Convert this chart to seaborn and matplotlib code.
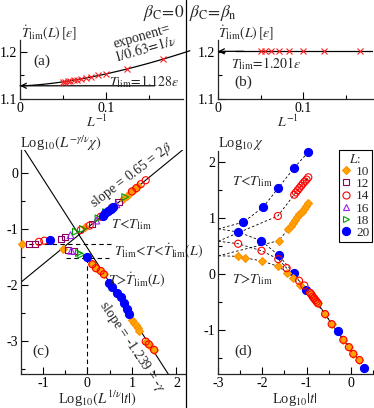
import numpy as np
import seaborn as sns
import matplotlib.pyplot as plt
from matplotlib.lines import Line2D
from matplotlib.ticker import MultipleLocator

sns.set_style("ticks")
plt.rcParams['font.family'] = ['Liberation Serif', 'DejaVu Serif']
plt.rcParams['mathtext.fontset'] = 'stix'
plt.rcParams['axes.unicode_minus'] = False

# ---- panel (a): Tdot_lim(L) vs 1/L, beta_C = 0
a_invL = [0.1667, 0.125, 0.1, 0.0909, 0.0833, 0.0769, 0.0714, 0.0667, 0.0625, 0.0588, 0.0556, 0.0526, 0.05]
a_T = [1.184, 1.164, 1.152, 1.150, 1.147, 1.145, 1.142, 1.141, 1.140, 1.139, 1.138, 1.137, 1.136]
a_Tlim, a_amp, a_nu = 1.128, 0.97, 0.63

# ---- panel (b): beta_C = beta_n
b_invL = [0.1667, 0.125, 0.1, 0.0833, 0.0714, 0.0625, 0.0556, 0.05]
b_T = [1.202, 1.201, 1.201, 1.201, 1.201, 1.201, 1.201, 1.201]
b_Tlim = 1.201

# ---- panel (c): collapsed data, upper branch (T<Tlim) and lower branch
c_up = {
    10: ([-1.46, -0.05, 0.80, 0.88, 0.95, 1.02, 1.08, 1.14],
         [-1.27, -0.96, -0.46, -0.41, -0.36, -0.31, -0.28, -0.24]),
    12: ([-1.31, -1.18, -0.60, -0.50, 0.10, 0.70],
         [-1.27, -1.27, -1.18, -1.14, -0.91, -0.52]),
    14: ([-1.09, -0.97, -0.15, 0.05, 0.30, 0.55, 1.00, 1.10, 1.20, 1.31],
         [-1.23, -1.21, -1.02, -0.94, -0.78, -0.62, -0.33, -0.27, -0.20, -0.13]),
    16: ([-0.38, 0.20, 0.65], [-1.11, -0.85, -0.56]),
    18: ([-0.26, -0.10, 0.25, 0.42, 0.85], [-1.05, -1.00, -0.81, -0.70, -0.43]),
    20: ([-0.84, 0.34, 0.40, 0.46, 0.52, 0.58], [-1.20, -0.76, -0.72, -0.68, -0.64, -0.61]),
}
c_low = {
    10: ([-0.54, 0.11, 0.19, 0.30, 0.37, 1.01, 1.05, 1.09, 1.13, 1.16, 1.31, 1.38, 1.44, 1.50],
         [-1.35, -1.63, -1.70, -1.75, -1.81, -2.63, -2.68, -2.71, -2.77, -2.83, -3.01, -3.06, -3.11, -3.16]),
    12: ([-0.43, -0.30], [-1.375, -1.40]),
    14: ([0.11, 0.19, 0.30, 0.37, 1.31, 1.38, 1.50], [-1.63, -1.70, -1.75, -1.81, -3.01, -3.06, -3.16]),
    16: ([-0.36], [-1.39]),
    18: ([-0.19, -0.14], [-1.43, -1.46]),
    20: ([-0.02, 0.49, 0.55, 0.67, 0.75, 0.82, 0.90, 0.94],
         [-1.50, -1.97, -2.03, -2.15, -2.21, -2.33, -2.43, -2.51]),
}
c_slope_up, c_icpt_up = 0.65, -0.98
c_slope_low, c_icpt_low = -1.239, -1.34

# ---- panel (d): Log10 chi vs Log10|t|
d_up = {
    10: ([-1.63, -1.41, -1.36, -1.31, -1.26, -1.21, -1.16, -1.11, -1.06, -1.01, -0.96],
         [0.59, 0.80, 0.85, 0.90, 0.95, 1.01, 1.06, 1.11, 1.16, 1.21, 1.26]),
    14: ([-1.65, -1.28, -1.24, -1.20, -1.16, -1.12, -1.08, -1.04, -1.00, -0.96],
         [1.03, 1.41, 1.45, 1.49, 1.53, 1.57, 1.61, 1.645, 1.68, 1.72]),
    20: ([-2.43, -1.98, -1.64, -1.28, -0.96], [0.92, 1.19, 1.53, 1.89, 2.17]),
}
d_low = {
    10: ([-2.55, -2.39, -2.02, -1.64, -1.45, -1.30, -1.15, -0.92, -0.89, -0.86, -0.83, -0.80, -0.77, -0.74,
          -0.58, -0.43, -0.165, -0.04, 0.06, 0.20],
         [0.31, 0.28, 0.23, 0.13, 0.02, -0.08, -0.20, -0.34, -0.37, -0.41, -0.44, -0.47, -0.50, -0.53,
          -0.72, -0.90, -1.18, -1.31, -1.43, -1.54]),
    14: ([-2.55, -2.02, -1.64, -1.45, -1.17, -1.05, -0.92, -0.89, -0.86, -0.83, -0.80, -0.77, -0.74,
          -0.58, -0.43, -0.165, -0.04, 0.06, 0.20],
         [0.535, 0.41, 0.26, 0.10, -0.125, -0.21, -0.34, -0.37, -0.41, -0.44, -0.47, -0.50, -0.53,
          -0.72, -0.90, -1.18, -1.31, -1.43, -1.54]),
    20: ([-2.55, -2.03, -1.63, -1.29, -1.01, -0.28, 0.31], [0.745, 0.589, 0.327, 0.01, -0.29, -1.03, -1.68]),
}
d_start = {10: 0.32, 14: 0.58, 20: 0.80}

sizes = [10, 12, 14, 16, 18, 20]
STYLE = {
    10: dict(marker='D', s=16, fc='#ffa500', ec='#ff9000'),
    12: dict(marker='s', s=20, fc='none', ec='#8b005a'),
    14: dict(marker='o', s=26, fc='none', ec='#ff0000'),
    16: dict(marker='^', s=24, fc='none', ec='#a020f0'),
    18: dict(marker='>', s=24, fc='none', ec='#00a000'),
    20: dict(marker='o', s=34, fc='#0000ff', ec='#0000ff'),
}
FS = 10

W, H = 374, 408
fig = plt.figure(figsize=(W / 100, H / 100), dpi=100)


def px_axes(l, r, t, b):
    return fig.add_axes([l / W, 1 - b / H, (r - l) / W, (b - t) / H])


def style_axes(ax, xmaj, xmin, ymaj, ymin):
    sns.despine(ax=ax)
    ax.set_facecolor('none')
    for s in ['left', 'bottom']:
        ax.spines[s].set_linewidth(0.9)
    ax.xaxis.set_major_locator(MultipleLocator(xmaj))
    ax.xaxis.set_minor_locator(MultipleLocator(xmin))
    ax.yaxis.set_major_locator(MultipleLocator(ymaj))
    ax.yaxis.set_minor_locator(MultipleLocator(ymin))
    ax.tick_params(which='both', direction='in', width=0.8, labelsize=FS, pad=2, colors='k')
    ax.tick_params(which='major', length=5)
    ax.tick_params(which='minor', length=3)


def pts(ax, x, y, L):
    st = STYLE[L]
    sns.scatterplot(x=x, y=y, ax=ax, marker=st['marker'], s=st['s'], facecolor=st['fc'],
                    edgecolor=st['ec'], linewidth=0.8, zorder=3, legend=False, clip_on=False)


# ================= (a)
axa = px_axes(20, 183, 40, 99)
axa.set_xlim(0, 0.19)
axa.set_ylim(1.1, 1.225)
style_axes(axa, 0.1, 0.05, 0.1, 0.05)
axa.set_xticks([0, 0.1])
axa.set_xticklabels(['0', '0.1'])
axa.set_yticks([1.1, 1.2])
xf = np.linspace(0, 0.198, 100)
axa.plot(xf, a_Tlim + a_amp * xf ** (1 / a_nu), color='k', lw=0.9, clip_on=False)
axa.annotate('', xy=(0, a_Tlim), xytext=(0.157, a_Tlim),
             arrowprops=dict(arrowstyle='->', lw=0.9, color='k', shrinkA=0, shrinkB=0, mutation_scale=9))
axa.plot(a_invL, a_T, ls='', marker='x', ms=5, mew=0.8, color='#ff2020', zorder=3)
axa.text(0.025, 1.179, '(a)', fontsize=FS + 1, ha='center', va='center')
axa.text(0.142, 1.232, 'exponent=', fontsize=FS, ha='center', va='center', rotation=16)
axa.text(0.146, 1.206, r'$1/0.63\!=\!1/\nu$', fontsize=FS, ha='center', va='center', rotation=16)
axa.text(0.145, 1.137, r'$T_{\rm lim}\!=\!1.128\varepsilon$', fontsize=FS, ha='center', va='center')

# ================= (b)
axb = px_axes(218, 373, 40, 99)
axb.set_xlim(0, 0.182)
axb.set_ylim(1.1, 1.225)
style_axes(axb, 0.1, 0.05, 0.1, 0.05)
axb.set_xticks([0, 0.1])
axb.set_xticklabels(['0', '0.1'])
axb.set_yticks([1.1, 1.2])
axb.plot([0.02, 0.182], [b_Tlim, b_Tlim], color='k', lw=0.9)
axb.annotate('', xy=(0, b_Tlim), xytext=(0.03, b_Tlim),
             arrowprops=dict(arrowstyle='->', lw=0.9, color='k', shrinkA=0, shrinkB=0, mutation_scale=9))
axb.plot(b_invL, b_T, ls='', marker='x', ms=5, mew=0.8, color='#ff2020', zorder=3)
axb.text(0.0297, 1.136, '(b)', fontsize=FS + 1, ha='center', va='center')
axb.text(0.057, 1.174, r'$T_{\rm lim}\!=\!1.201\varepsilon$', fontsize=FS, ha='center', va='center')

# ================= (c)
axc = px_axes(20.7, 185.3, 150, 374)
axc.set_xlim(-1.5, 2.2)
axc.set_ylim(-3.59, 0.41)
style_axes(axc, 1, 0.5, 1, 0.5)
xl = np.array([-1.5, 2.2])
axc.plot(xl, c_icpt_up + c_slope_up * xl, color='k', lw=0.8)
axc.plot(xl, c_icpt_low + c_slope_low * xl, color='k', lw=0.8)
axc.plot([-1.5, 0.52], [-1.27, -1.27], color='k', lw=0.8, ls=(0, (4, 3)))
axc.plot([-0.49, 0.48], [-1.51, -1.51], color='k', lw=0.8, ls=(0, (4, 3)))
axc.plot([0, 0], [-1.51, -3.59], color='k', lw=0.8, ls=(0, (4, 3)))
for L in sizes:
    pts(axc, c_up[L][0], c_up[L][1], L)
    pts(axc, c_low[L][0], c_low[L][1], L)
axc.text(0.99, -0.04, r'slope = 0.65 = 2$\beta$', fontsize=FS, ha='center', va='center',
         rotation=37, rotation_mode='anchor')
axc.text(0.52, -0.93, r'$T\!<\!T_{\rm lim}$', fontsize=FS, ha='left', va='center')
axc.text(0.60, -1.39, r'$T_{\rm lim}\!<\!T\!<\!\dot{T}_{\rm lim}(L)$', fontsize=FS, ha='left', va='center')
axc.text(0.46, -1.90, r'$T\!>\!\dot{T}_{\rm lim}(L)$', fontsize=FS, ha='left', va='center')
axc.text(1.01, -3.10, r'slope = -1.239 = -$\gamma$', fontsize=FS, ha='center', va='center',
         rotation=-56, rotation_mode='anchor')
axc.text(-1.05, -3.19, '(c)', fontsize=FS + 1, ha='center', va='center')

# ================= (d)
axd = px_axes(218.3, 372.7, 151, 374)
axd.set_xlim(-3, 0.5)
axd.set_ylim(-1.79, 2.19)
style_axes(axd, 1, 0.5, 1, 0.5)
for L in [10, 14, 20]:
    for br in (d_up, d_low):
        sns.lineplot(x=[-3] + br[L][0], y=[d_start[L]] + br[L][1], ax=axd, sort=False, estimator=None,
                     color='k', lw=0.6, ls=(0, (3, 2.5)), zorder=2)
for L in [20, 14, 10]:
    pts(axd, d_up[L][0], d_up[L][1], L)
for L in [20, 10, 14]:
    pts(axd, d_low[L][0], d_low[L][1], L)
axd.text(-2.69, 1.64, r'$T\!<\!T_{\rm lim}$', fontsize=FS, ha='left', va='center')
axd.text(-2.69, -0.11, r'$T\!>\!T_{\rm lim}$', fontsize=FS, ha='left', va='center')
axd.text(-2.43, -1.39, '(d)', fontsize=FS + 1, ha='center', va='center')

handles = [Line2D([], [], ls='', marker=STYLE[L]['marker'], ms=np.sqrt(STYLE[L]['s']),
                  mfc=STYLE[L]['fc'], mec=STYLE[L]['ec'], mew=0.8) for L in sizes]
leg = fig.legend(handles, [str(L) for L in sizes], title=r'$L$:', loc='upper right',
                 bbox_to_anchor=(372 / W, 1 - 150 / H), fontsize=9.5, title_fontsize=9.5,
                 frameon=True, fancybox=False, edgecolor='k', framealpha=1,
                 handlelength=0.7, handletextpad=0.4, labelspacing=0.0, borderpad=0.2,
                 borderaxespad=0)
leg.get_frame().set_linewidth(0.8)

# ---- axis labels as free text
fig.text(21 / W, 1 - 33 / H, r'$\dot{T}_{\rm lim}(L)\,[\varepsilon]$', fontsize=FS, ha='left', va='center')
fig.text(218 / W, 1 - 33 / H, r'$\dot{T}_{\rm lim}(L)\,[\varepsilon]$', fontsize=FS, ha='left', va='center')
fig.text(97 / W, 1 - 121.5 / H, r'$L^{-1}$', fontsize=FS, ha='center', va='center')
fig.text(288 / W, 1 - 121.5 / H, r'$L^{-1}$', fontsize=FS, ha='center', va='center')
fig.text(20 / W, 1 - 143 / H, r'Log$_{10}(L^{-\gamma/\nu}\chi)$', fontsize=FS + 0.5, ha='left', va='center')
fig.text(218 / W, 1 - 143 / H, r'Log$_{10}\,\chi$', fontsize=FS + 0.5, ha='left', va='center')
fig.text(97 / W, 1 - 399 / H, r'Log$_{10}(L^{1/\nu}|t|)$', fontsize=FS + 0.5, ha='center', va='center')
fig.text(295 / W, 1 - 399 / H, r'Log$_{10}|t|$', fontsize=FS + 0.5, ha='center', va='center')

# ---- column titles and divider
fig.text(184 / W, 1 - 13 / H, r'$\beta_{\rm C}\!=\!0$', fontsize=12.5, ha='right', va='center')
fig.text(189 / W, 1 - 13 / H, r'$\beta_{\rm C}\!=\!\beta_{\rm n}$', fontsize=12.5, ha='left', va='center')
fig.add_artist(Line2D([186 / W, 186 / W], [0, 1], color='k', lw=0.9))

fig.savefig('out.png', dpi=100)
